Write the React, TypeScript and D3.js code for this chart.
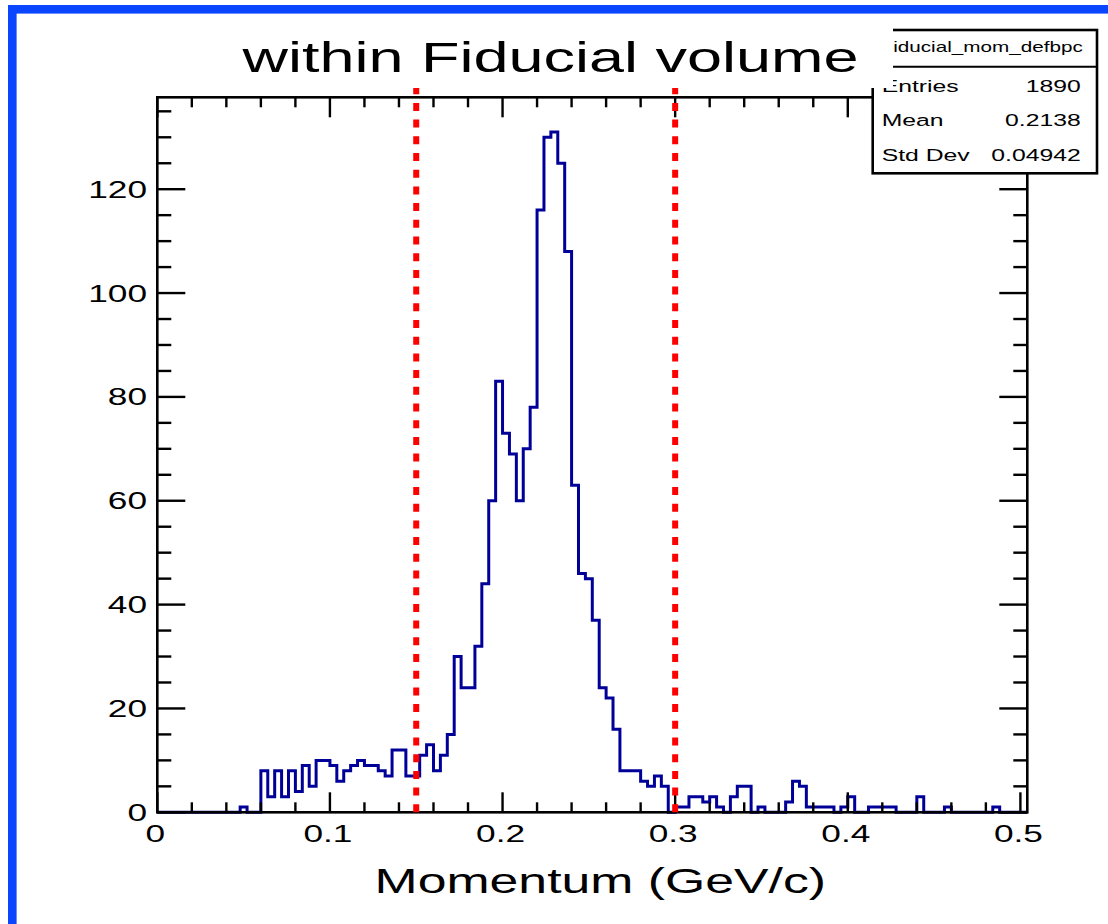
import React from "react";
import * as d3 from "d3";

// ---------- data ----------
const binWidth = 0.004;
const counts: number[] = [
  0, 0, 0, 0, 0, 0, 0, 0, 0, 0, 0, 0,
  1, 0, 0,
  8, 3, 8, 3, 8, 4, 9, 5, 10, 10, 9, 6, 8, 9, 10, 9, 9, 8, 7, 12, 12, 7, 7,
  11, 13, 8, 11, 15, 30, 24, 24, 32, 44,
  60, 83, 73, 69, 60, 70, 78, 116, 130, 131, 125, 108, 63,
  46, 45, 37, 24, 22, 16, 8, 8, 8, 6, 5, 7, 5,
  0,
  1, 1, 3, 3, 2, 3, 1, 0, 3, 5, 5, 0, 1, 0, 0, 0, 2, 6, 5, 1, 1, 1, 1, 0, 1, 3,
  0, 0,
  1, 1, 1, 1,
  0, 0, 0,
  3,
  0, 0, 0,
  1,
  0, 0, 0, 0, 0, 0,
  1,
  0, 0, 0, 0,
];
const xMajorTicks = [0, 0.1, 0.2, 0.3, 0.4, 0.5];
const xTickLabels = ["0", "0.1", "0.2", "0.3", "0.4", "0.5"];
const yMajorTicks = [0, 20, 40, 60, 80, 100, 120];
const yTickLabels = ["0", "20", "40", "60", "80", "100", "120"];
const cutValues = [0.15, 0.3];
const cutTop = 140;
const statsLabels = ["Entries", "Mean", "Std Dev"];
const statsValues = ["1890", "0.2138", "0.04942"];
const statsName = "iducial_mom_defbpc";
const titleText = "within Fiducial volume";
const xTitleText = "Momentum (GeV/c)";

// ---------- layout ----------
const W = 1108;
const H = 924;
const FL = 157.3, FR = 1027.3, FT = 97.3, FB = 812.3;
const SX = 1.5;
const FONT = "'Liberation Sans', Arial, Helvetica, sans-serif";
const HIST = "#000099";

function T({ x, y, size, anchor = "start", children, sx = SX }: any) {
  return (
    <text
      transform={`translate(${x},${y}) scale(${sx},1)`}
      fontSize={size}
      fontFamily={FONT}
      textAnchor={anchor}
      fill="#000"
    >
      {children}
    </text>
  );
}

export default function App() {
  const nBins = counts.length;
  const x = d3.scaleLinear().domain([0, nBins * binWidth]).range([FL, FR]);
  const y = d3.scaleLinear().domain([0, 137.7]).range([FB, FT]);

  const pts: [number, number][] = counts.map((c, i) => [i * binWidth, c]);
  pts.push([nBins * binWidth, counts[nBins - 1]]);
  const line = d3
    .line<[number, number]>()
    .x((d) => x(d[0]))
    .y((d) => y(d[1]))
    .curve(d3.curveStepAfter);
  const histPath = line(pts) || "";

  const xMinor = d3.range(0, 0.5001, 0.02).filter(
    (v) => !xMajorTicks.some((m) => Math.abs(m - v) < 1e-6)
  );
  const yMinor = d3.range(0, 136, 5).filter((v) => v % 20 !== 0);

  const xMajLen = 20, xMinLen = 10, yMajLen = 28, yMinLen = 14;

  // stats box geometry
  const sbL = 872.7, sbR = 1097, sbT = 30, sbB = 173.3, sbSep = 66.7;

  return (
    <svg
      width={W}
      height={H}
      style={{ position: "absolute", left: 0, top: 0, background: "#fff" }}
    >
      <rect x={0} y={0} width={W} height={H} fill="#fff" />
      {/* blue canvas border */}
      <rect x={8} y={5} width={W - 8} height={8.6} fill="#0a46ff" />
      <rect x={8} y={5} width={8.6} height={H - 5} fill="#0a46ff" />

      {/* histogram */}
      <path d={histPath} fill="none" stroke={HIST} strokeWidth={3} strokeLinejoin="miter" />

      {/* frame */}
      <rect x={FL} y={FT} width={FR - FL} height={FB - FT} fill="none" stroke="#000" strokeWidth={2.6} />
      {/* x ticks bottom & top */}
      {xMajorTicks.map((v) => (
        <g key={"xM" + v}>
          <line x1={x(v)} x2={x(v)} y1={FB} y2={FB - xMajLen} stroke="#000" strokeWidth={2.4} />
          <line x1={x(v)} x2={x(v)} y1={FT} y2={FT + xMajLen} stroke="#000" strokeWidth={2.4} />
        </g>
      ))}
      {xMinor.map((v) => (
        <g key={"xm" + v}>
          <line x1={x(v)} x2={x(v)} y1={FB} y2={FB - xMinLen} stroke="#000" strokeWidth={2.4} />
          <line x1={x(v)} x2={x(v)} y1={FT} y2={FT + xMinLen} stroke="#000" strokeWidth={2.4} />
        </g>
      ))}
      {/* y ticks left & right */}
      {yMajorTicks.map((v) => (
        <g key={"yM" + v}>
          <line x1={FL} x2={FL + yMajLen} y1={y(v)} y2={y(v)} stroke="#000" strokeWidth={2.4} />
          <line x1={FR} x2={FR - yMajLen} y1={y(v)} y2={y(v)} stroke="#000" strokeWidth={2.4} />
        </g>
      ))}
      {yMinor.map((v) => (
        <g key={"ym" + v}>
          <line x1={FL} x2={FL + yMinLen} y1={y(v)} y2={y(v)} stroke="#000" strokeWidth={2.4} />
          <line x1={FR} x2={FR - yMinLen} y1={y(v)} y2={y(v)} stroke="#000" strokeWidth={2.4} />
        </g>
      ))}

      {/* tick labels */}
      {xMajorTicks.map((v, i) => (
        <T key={"xl" + v} x={x(v) - 2} y={841.7} size={23.5} anchor="middle">
          {xTickLabels[i]}
        </T>
      ))}
      {yMajorTicks.map((v, i) => (
        <T key={"yl" + v} x={147} y={y(v) + 8.5} size={23.5} anchor="end">
          {yTickLabels[i]}
        </T>
      ))}

      {/* cut lines */}
      {cutValues.map((v) => (
        <line
          key={"cut" + v}
          x1={x(v)}
          x2={x(v)}
          y1={y(0)}
          y2={y(cutTop)}
          stroke="#ff0000"
          strokeWidth={6}
          strokeDasharray="8 8.7"
        />
      ))}

      {/* axis title */}
      <T x={(FL + FR) / 2 + 8} y={893} size={34.5} anchor="middle">
        {xTitleText}
      </T>

      {/* stats box */}
      <rect x={sbL} y={sbT} width={sbR - sbL} height={sbB - sbT} fill="#fff" stroke="#000" strokeWidth={2.6} />
      <line x1={sbL} x2={sbR} y1={sbSep} y2={sbSep} stroke="#000" strokeWidth={2} />
      <T x={988} y={52} size={13.8} anchor="middle">
        {statsName}
      </T>
      {statsLabels.map((s, i) => (
        <T key={"sl" + s} x={881.7} y={91.7 + i * 34.5} size={16.5} anchor="start">
          {s}
        </T>
      ))}
      {statsValues.map((s, i) => (
        <T key={"sv" + s} x={1080.7} y={91.7 + i * 34.5} size={16.5} anchor="end">
          {s}
        </T>
      ))}

      {/* title pave (covers part of stats box) */}
      <rect x={200} y={16} width={893 - 200} height={88 - 16} fill="#fff" />
      <T x={550.5} y={72} size={42} anchor="middle">
        {titleText}
      </T>
    </svg>
  );
}
